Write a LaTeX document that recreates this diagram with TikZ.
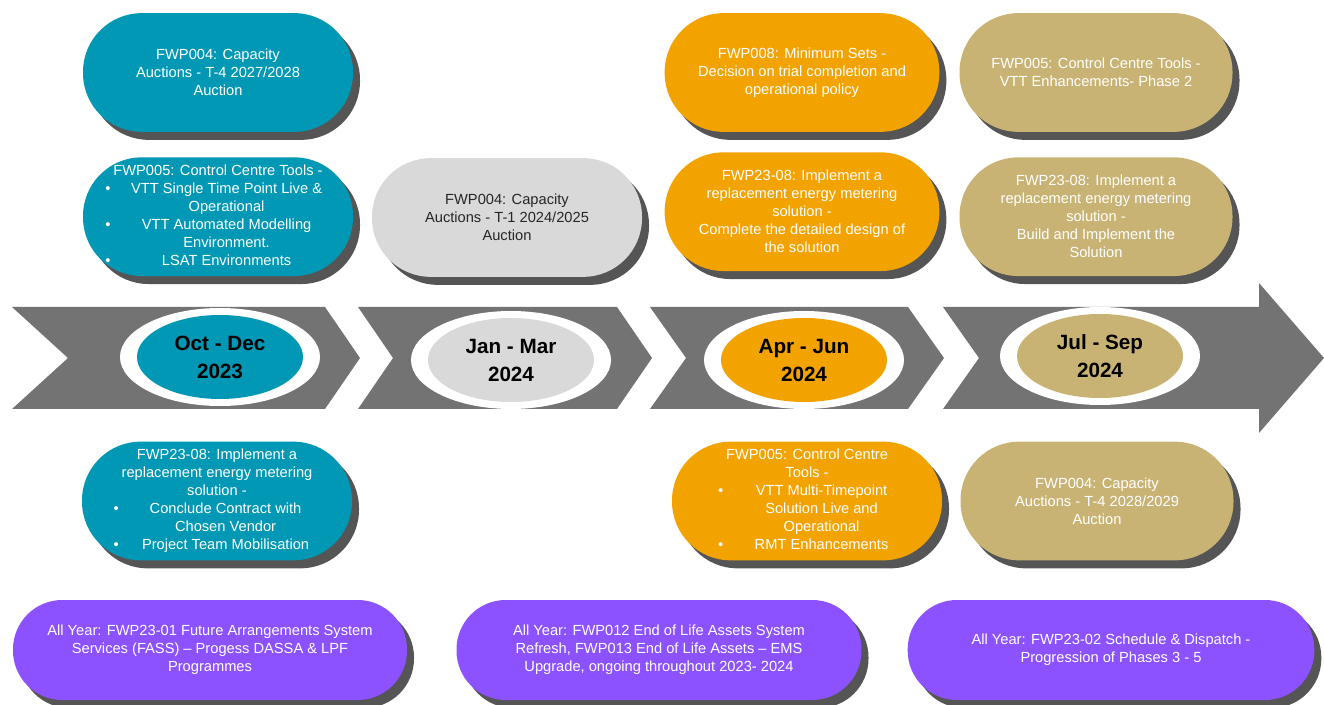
\documentclass[tikz,border=0pt]{standalone}
\usepackage{fontspec}
\setmainfont{Liberation Sans}
\usetikzlibrary{positioning,shapes.geometric,shadows}

\definecolor{tealfill}{RGB}{0,152,180}
\definecolor{greyfill}{RGB}{217,217,217}
\definecolor{orangefill}{RGB}{243,163,0}
\definecolor{tanfill}{RGB}{201,179,116}
\definecolor{purplefill}{RGB}{140,82,255}
\definecolor{shadowgrey}{RGB}{85,85,85}
\definecolor{bandgrey}{RGB}{115,115,115}
\definecolor{darktext}{RGB}{38,38,38}

\newcommand{\bul}{\textbullet}

\begin{document}
\begin{tikzpicture}[x=0.75pt, y=-0.75pt,
  every node/.style={align=center, font=\fontsize{11}{13.5}\selectfont},
  pill/.style={rectangle, rounded corners=44pt, minimum width=202.5pt, minimum height=89pt, inner sep=1pt, text=white,
    drop shadow={shadow xshift=5.25pt, shadow yshift=-6pt, fill=shadowgrey, opacity=1}},
  longpill/.style={pill, rounded corners=37pt, minimum height=75pt, minimum width=#1, fill=purplefill},
  ring/.style={ellipse, fill=white, minimum width=150pt, minimum height=73.5pt},
  period/.style={ellipse, minimum width=124.5pt, minimum height=63pt, inner sep=0pt, text=black,
    font=\fontsize{15.5}{21}\selectfont\bfseries}]
\useasboundingbox (0,0) rectangle (1324,705);

% Timeline band
\fill[bandgrey] (12,307) -- (325,307) -- (360,358) -- (325,409) -- (12,409) -- (68,358) -- cycle;
\fill[bandgrey] (358,307) -- (617,307) -- (652,358) -- (617,409) -- (358,409) -- (393,358) -- cycle;
\fill[bandgrey] (650,307) -- (908,307) -- (944,358) -- (908,409) -- (650,409) -- (686,358) -- cycle;
\fill[bandgrey] (943,307) -- (1259,307) -- (1259,283) -- (1324,358) -- (1259,433) -- (1259,409) -- (943,409) -- (979,358) -- cycle;

% Quarters
\node (oct-ring) [ring] at (220,357) {};
\node (oct-date) [period, fill=tealfill] at (oct-ring) {Oct - Dec\\2023};
\node (jan-ring) [ring] at (511,360) {};
\node (jan-date) [period, fill=greyfill] at (jan-ring) {Jan - Mar\\2024};
\node (apr-ring) [ring] at (804,360) {};
\node (apr-date) [period, fill=orangefill] at (apr-ring) {Apr - Jun\\2024};
\node (jul-ring) [ring] at (1100,356) {};
\node (jul-date) [period, fill=tanfill] at (jul-ring) {Jul - Sep\\2024};

% Oct - Dec
\node (oct-a) [pill, fill=tealfill] at (218,72.5) {FWP004: Capacity\\Auctions - T-4 2027/2028\\Auction};
\node (oct-b) [pill, fill=tealfill, below=18.75pt of oct-a] {%
\begin{tabular}{@{}l@{\hspace{9pt}}c@{}}
\multicolumn{2}{c}{FWP005: Control Centre Tools -}\\
\bul & VTT Single Time Point Live \&\\
 & Operational\\
\bul & VTT Automated Modelling\\
 & Environment.\\
\bul & LSAT Environments
\end{tabular}};
\node (oct-c) [pill, fill=tealfill] at (217,501) {%
\begin{tabular}{@{}l@{\hspace{9pt}}c@{}}
\multicolumn{2}{c}{FWP23-08: Implement a}\\
\multicolumn{2}{c}{replacement energy metering}\\
\multicolumn{2}{c}{solution -}\\
\bul & Conclude Contract with\\
 & Chosen Vendor\\
\bul & Project Team Mobilisation
\end{tabular}};

% Jan - Mar
\node (jan-a) [pill, fill=greyfill, text=darktext] at (507,217.5) {FWP004: Capacity\\Auctions - T-1 2024/2025\\Auction};

% Apr - Jun
\node (apr-a) [pill, fill=orangefill, minimum width=206pt] at (802,72.5) {FWP008: Minimum Sets -\\Decision on trial completion and\\operational policy};
\node (apr-b) [pill, fill=orangefill, minimum width=206pt, below=15pt of apr-a] {FWP23-08: Implement a\\replacement energy metering\\solution -\\Complete the detailed design of\\the solution};
\node (apr-c) [pill, fill=orangefill] at (807,501) {%
\begin{tabular}{@{}l@{\hspace{18pt}}c@{}}
\multicolumn{2}{c}{FWP005: Control Centre}\\
\multicolumn{2}{c}{Tools -}\\
\bul & VTT Multi-Timepoint\\
 & Solution Live and\\
 & Operational\\
\bul & RMT Enhancements
\end{tabular}};

% Jul - Sep
\node (jul-a) [pill, fill=tanfill, minimum width=204.75pt] at (1096,72.5) {FWP005: Control Centre Tools -\\VTT Enhancements- Phase 2};
\node (jul-b) [pill, fill=tanfill, minimum width=204.75pt, below=18.75pt of jul-a] {FWP23-08: Implement a\\replacement energy metering\\solution -\\Build and Implement the\\Solution};
\node (jul-c) [pill, fill=tanfill, minimum width=204.75pt] at (1097,501) {FWP004: Capacity\\Auctions - T-4 2028/2029\\Auction};

% All year
\node (all-a) [longpill=295.5pt] at (210,650) {All Year: FWP23-01 Future Arrangements System\\Services (FASS) – Progess DASSA \& LPF\\Programmes};
\node (all-b) [longpill=303.75pt] at (659,650) {All Year: FWP012 End of Life Assets System\\Refresh, FWP013 End of Life Assets – EMS\\Upgrade, ongoing throughout 2023- 2024};
\node (all-c) [longpill=305pt] at (1111,650) {All Year: FWP23-02 Schedule \& Dispatch -\\Progression of Phases 3 - 5};
\end{tikzpicture}
\end{document}
